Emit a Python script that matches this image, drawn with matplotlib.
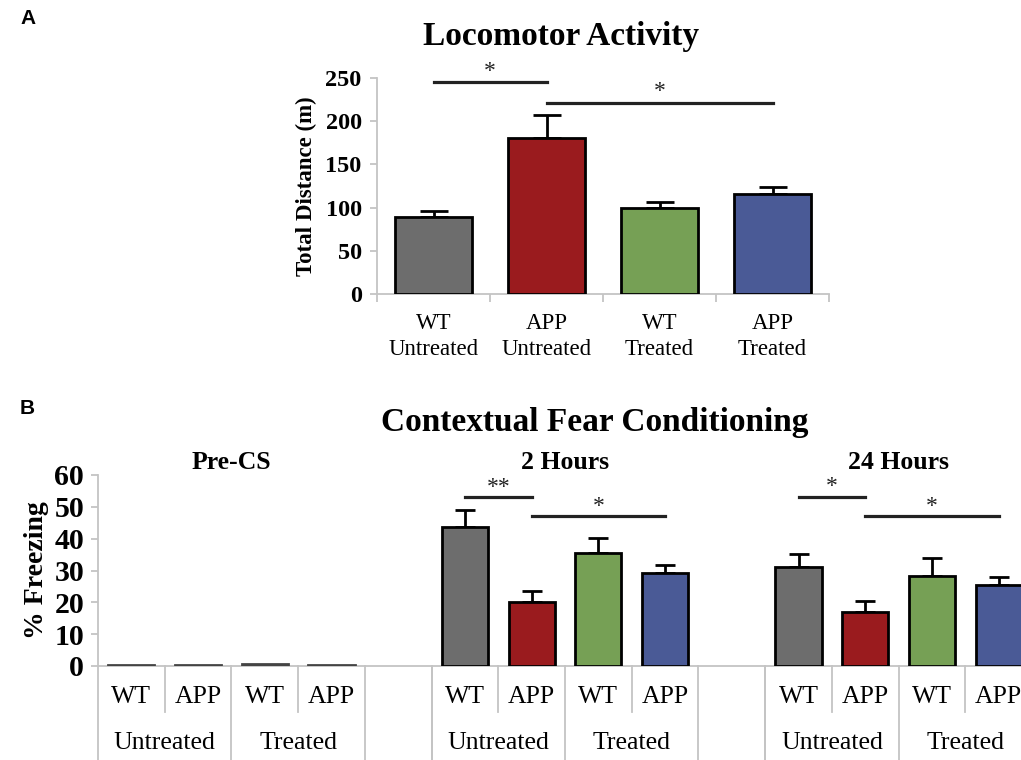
import numpy as np
import matplotlib.pyplot as plt
import matplotlib.transforms as mtransforms

plt.rcParams['font.family'] = ['Liberation Serif', 'DejaVu Serif']

# Panel A - locomotor activity
loco_labels = ['WT\nUntreated', 'APP\nUntreated', 'WT\nTreated', 'APP\nTreated']
loco_mean = [89, 180, 100, 116]
loco_err = [7, 27, 7, 8]

# Panel B - contextual fear conditioning
phases = ['Pre-CS', '2 Hours', '24 Hours']
geno_labels = ['WT', 'APP', 'WT', 'APP']
treat_labels = ['Untreated', 'Treated']
freeze_pre = [0.3, 0.3, 0.6, 0.3]
freeze_pre_err = [0, 0, 0, 0]
freeze_2h = [43.6, 20.2, 35.4, 29.1]
freeze_2h_err = [5.4, 3.4, 4.8, 2.7]
freeze_24h = [31.2, 17.1, 28.3, 25.5]
freeze_24h_err = [3.9, 3.3, 5.6, 2.6]

colors = ['#6d6d6d', '#9a1b1e', '#76a055', '#4a5a96']
spine_c = '#c4c4c4'
W, H = 1021, 760

fig = plt.figure(figsize=(W / 100, H / 100), dpi=100)

# ---------------- A ----------------
axA = fig.add_axes([377 / W, 1 - 294 / H, 452 / W, 216 / H])
xa = np.arange(4)
axA.bar(xa, loco_mean, width=0.68, color=colors, edgecolor='black', linewidth=2, zorder=3)
axA.errorbar(xa, loco_mean, yerr=[np.zeros(4), loco_err], fmt='none', ecolor='black',
             elinewidth=2, capsize=10, capthick=2, zorder=2)
axA.set_xlim(-0.5, 3.5)
axA.set_ylim(0, 250)
axA.set_yticks(np.arange(0, 251, 50))
axA.set_xticks(np.arange(-0.5, 4, 1))
axA.set_xticklabels([])
for s in ['top', 'right']:
    axA.spines[s].set_visible(False)
for s in ['left', 'bottom']:
    axA.spines[s].set_color(spine_c)
    axA.spines[s].set_linewidth(1.3)
axA.tick_params(axis='y', colors=spine_c, length=5, width=1.3, labelcolor='black', labelsize=17.5, pad=6)
axA.tick_params(axis='x', colors=spine_c, length=6, width=1.3)
for t in axA.get_yticklabels():
    t.set_fontweight('bold')
axA.set_ylabel('Total Distance (m)', fontsize=16.5, fontweight='bold', labelpad=6)
trA = mtransforms.blended_transform_factory(axA.transData, axA.transAxes)
for i, lab in enumerate(loco_labels):
    top, bot = lab.split('\n')
    axA.text(i, -0.135, top, transform=trA, ha='center', va='center', fontsize=16.5)
    axA.text(i, -0.255, bot, transform=trA, ha='center', va='center', fontsize=16.5)

# significance bars A
axA.plot([0, 1], [245.5, 245.5], color='#222222', lw=2.3, clip_on=False)
axA.text(0.5, 258, '*', ha='center', va='center', fontsize=17, color='#222222')
axA.plot([1, 3], [220.5, 220.5], color='#222222', lw=2.3, clip_on=False)
axA.text(2, 234, '*', ha='center', va='center', fontsize=17, color='#222222')

fig.text(561 / W, 1 - 36 / H, 'Locomotor Activity', ha='center', va='center',
         fontsize=24, fontweight='bold')
fig.text(20 / W, 1 - 18 / H, 'A', ha='left', va='center', fontsize=15,
         fontweight='bold', family='Liberation Sans')

# ---------------- B ----------------
axB = fig.add_axes([98 / W, 1 - 666 / H, 934 / W, 191 / H])
groups = [(freeze_pre, freeze_pre_err), (freeze_2h, freeze_2h_err), (freeze_24h, freeze_24h_err)]
for g, (vals, errs) in enumerate(groups):
    xb = g * 5 + np.arange(4)
    axB.bar(xb, vals, width=0.69, color=colors, edgecolor='black' if g else '#444444',
            linewidth=2, zorder=3)
    if g:
        axB.errorbar(xb, vals, yerr=[np.zeros(4), errs], fmt='none', ecolor='black',
                     elinewidth=2, capsize=7, capthick=2, zorder=2)
axB.set_xlim(-0.5, 13.5)
axB.set_ylim(0, 60)
axB.set_yticks(np.arange(0, 61, 10))
axB.set_xticks([])
for s in ['top', 'right']:
    axB.spines[s].set_visible(False)
for s in ['left', 'bottom']:
    axB.spines[s].set_color(spine_c)
    axB.spines[s].set_linewidth(1.3)
axB.tick_params(axis='y', colors=spine_c, length=5, width=1.3, labelcolor='black', labelsize=21.5, pad=5)
for t in axB.get_yticklabels():
    t.set_fontweight('bold')
axB.set_ylabel('% Freezing', fontsize=20, fontweight='bold', labelpad=4)

trB = mtransforms.blended_transform_factory(axB.transData, axB.transAxes)
for g in range(3):
    base = g * 5
    for i, lab in enumerate(geno_labels):
        axB.text(base + i, -0.162, lab, transform=trB, ha='center', va='center', fontsize=18.5)
    for j, lab in enumerate(treat_labels):
        axB.text(base + 2 * j + 0.5, -0.405, lab, transform=trB, ha='center', va='center', fontsize=18.5)
    for xs in [base + 0.5, base + 2.5]:
        axB.plot([xs, xs], [0, -0.24], transform=trB, color=spine_c, lw=1.3, clip_on=False)
    for xs in [base - 0.5, base + 1.5, base + 3.5, base + 4.5]:
        axB.plot([xs, xs], [0, -0.6], transform=trB, color=spine_c, lw=1.3, clip_on=False)
    axB.text(base + 1.5, 1.065, phases[g], transform=trB, ha='center', va='center',
             fontsize=18.5, fontweight='bold')

# significance bars B
for base in [5, 10]:
    axB.plot([base, base + 1], [53.2, 53.2], color='#222222', lw=2.3)
    axB.plot([base + 1, base + 3], [47.0, 47.0], color='#222222', lw=2.3)
    axB.text(base + 2, 50.0, '*', ha='center', va='center', fontsize=17, color='#222222')
axB.text(5.5, 56.0, '**', ha='center', va='center', fontsize=17, color='#222222')
axB.text(10.5, 56.5, '*', ha='center', va='center', fontsize=17, color='#222222')

fig.text(595 / W, 1 - 423 / H, 'Contextual Fear Conditioning', ha='center', va='center',
         fontsize=24, fontweight='bold')
fig.text(20 / W, 1 - 408 / H, 'B', ha='left', va='center', fontsize=15,
         fontweight='bold', family='Liberation Sans')

fig.savefig('out.png', dpi=100)
